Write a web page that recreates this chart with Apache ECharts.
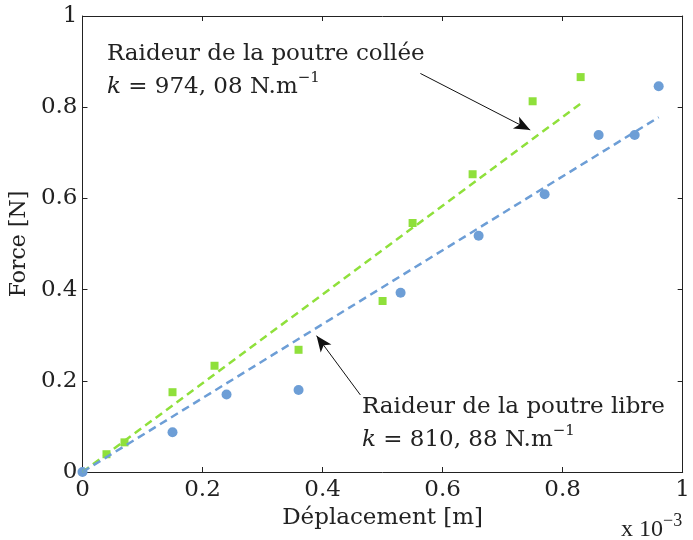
<!DOCTYPE html>
<html>
<head>
<meta charset="utf-8">
<script src="https://cdn.jsdelivr.net/npm/echarts@6/dist/echarts.min.js"></script>
<style>
html, body { margin: 0; padding: 0; background: #fff; }
#chart { width: 693px; height: 540px; }
</style>
</head>
<body>
<div id="chart"></div>
<script>
// displacement values (x 10^-3 m) and forces (N)
var xCollee = [0.04, 0.07, 0.15, 0.22, 0.36, 0.50, 0.55, 0.65, 0.75, 0.83];
var yCollee = [0.039, 0.065, 0.175, 0.233, 0.268, 0.375, 0.546, 0.653, 0.813, 0.866];
var xLibre = [0, 0.15, 0.24, 0.36, 0.53, 0.66, 0.77, 0.86, 0.92, 0.96];
var yLibre = [0, 0.087, 0.170, 0.180, 0.393, 0.518, 0.609, 0.739, 0.739, 0.846];
// fitted lines, end points
var fitColleeX = [0, 0.83];
var fitColleeY = [0, 0.808];
var fitLibreX = [0, 0.96];
var fitLibreY = [0, 0.778];

var green = '#8fe03b';
var blue = '#6d9ed6';
var font = 'DejaVu Serif';

function pairs(xs, ys) {
    return xs.map(function (x, i) { return [x, ys[i]]; });
}
function tickFmt(v) {
    return (v === 0 || v === 1) ? String(v) : v.toFixed(1);
}

var chart = echarts.init(document.getElementById('chart'));

var axisBase = {
    type: 'value',
    min: 0,
    max: 1,
    interval: 0.2,
    axisLine: { show: true, onZero: false, lineStyle: { color: '#222', width: 1 } },
    axisTick: { show: true, inside: true, length: 5, lineStyle: { color: '#222' } },
    splitLine: { show: false }
};

var richK = {
    i: { fontFamily: font, fontSize: 23, fontStyle: 'italic', lineHeight: 33 },
    s: { fontFamily: font, fontSize: 15, verticalAlign: 'top', lineHeight: 33, padding: [0, 0, 14, 0] }
};

var option = {
    animation: false,
    backgroundColor: '#fff',
    grid: { left: 82, right: 7, top: 16, bottom: 68 },
    xAxis: [
        Object.assign({}, axisBase, {
            position: 'bottom',
            name: 'Déplacement [m]',
            nameLocation: 'middle',
            nameGap: 33,
            nameTextStyle: { fontFamily: font, fontSize: 23, color: '#222' },
            axisLabel: { formatter: tickFmt, fontFamily: font, fontSize: 23, color: '#222', margin: 7 }
        }),
        Object.assign({}, axisBase, { position: 'top', axisLabel: { show: false } })
    ],
    yAxis: [
        Object.assign({}, axisBase, {
            position: 'left',
            name: 'Force [N]',
            nameLocation: 'middle',
            nameGap: 44,
            nameTextStyle: { fontFamily: font, fontSize: 22, color: '#222' },
            axisLabel: { formatter: tickFmt, fontFamily: font, fontSize: 23, color: '#222', margin: 5 }
        }),
        Object.assign({}, axisBase, { position: 'right', axisLabel: { show: false } })
    ],
    series: [
        {
            name: 'fit collee',
            type: 'line',
            data: pairs(fitColleeX, fitColleeY),
            symbol: 'none',
            lineStyle: { color: green, width: 2.5, type: [8, 5] },
            markLine: {
                silent: true,
                symbol: ['none', 'arrow'],
                symbolSize: [10, 16],
                label: { show: false },
                lineStyle: { color: '#111', width: 1, type: 'solid' },
                data: [
                    [{ coord: [0.563, 0.874] }, { coord: [0.746, 0.750] }],
                    [{ coord: [0.463, 0.169] }, { coord: [0.390, 0.299] }]
                ]
            }
        },
        {
            name: 'fit libre',
            type: 'line',
            data: pairs(fitLibreX, fitLibreY),
            symbol: 'none',
            lineStyle: { color: blue, width: 2.5, type: [8, 5] }
        },
        {
            name: 'poutre collee',
            type: 'scatter',
            data: pairs(xCollee, yCollee),
            symbol: 'rect',
            symbolSize: 8,
            itemStyle: { color: green, opacity: 1 }
        },
        {
            name: 'poutre libre',
            type: 'scatter',
            data: pairs(xLibre, yLibre),
            symbol: 'circle',
            symbolSize: 10,
            itemStyle: { color: blue, opacity: 1 }
        }
    ],
    graphic: [
        {
            type: 'text', left: 107, top: 38,
            style: {
                text: 'Raideur de la poutre collée\n{i|k} = 974, 08 N.m{s|−1}',
                font: '23px "' + font + '"', fill: '#222', lineHeight: 33,
                rich: richK
            }
        },
        {
            type: 'text', left: 362, top: 391,
            style: {
                text: 'Raideur de la poutre libre\n{i|k} = 810, 88 N.m{s|−1}',
                font: '23px "' + font + '"', fill: '#222', lineHeight: 33,
                rich: richK
            }
        },
        {
            type: 'text', left: 621, top: 512,
            style: {
                text: 'x 10{s|−3}',
                font: '24px "Liberation Serif"', fill: '#222',
                rich: {
                    s: { fontFamily: 'Liberation Serif', fontSize: 18, padding: [0, 0, 18, 0] }
                }
            }
        }
    ]
};

chart.setOption(option);
</script>
</body>
</html>
